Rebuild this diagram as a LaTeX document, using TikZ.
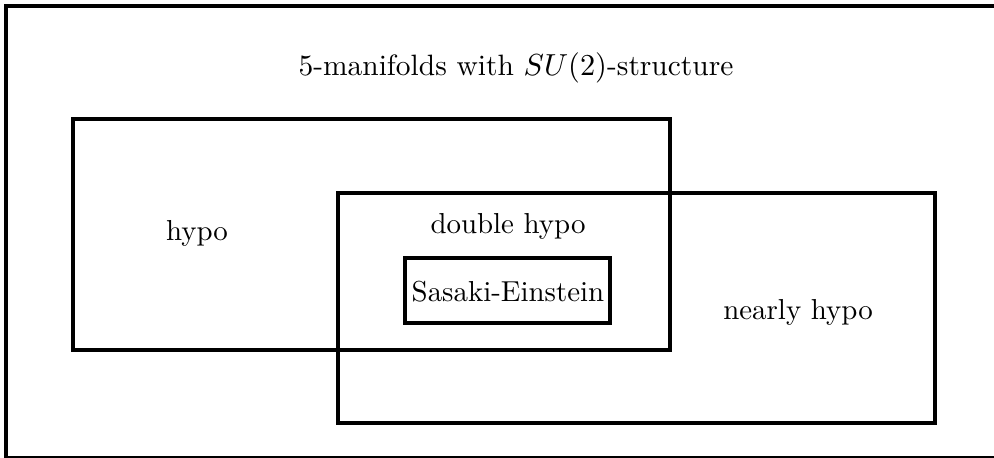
\documentclass[tikz,border=0pt]{standalone}
\begin{document}
\begin{tikzpicture}[x=0.36pt,y=-0.36pt,
  setbox/.style={draw=black,line width=1.45pt},
  lbl/.style={inner sep=0pt,font=\fontsize{10.4}{12}\selectfont}]
\useasboundingbox (0,0) rectangle (994,458);
\clip (0,0) rectangle (994,458);
\fill[white] (0,0) rectangle (994,458);
\draw[setbox] (6,6) rectangle (1010,458);
\node[lbl,font=\fontsize{10.6}{12}\selectfont] (title) at (516,68) {5-manifolds with $SU(2)$-structure};
\draw[setbox] (73,119) rectangle (670,350);
\draw[setbox] (338,193) rectangle (935,423);
\draw[setbox] (405,258) rectangle (610,323);
\node[lbl] (hypo) at (197,233) {hypo};
\node[lbl] (dh) at (508,226) {double hypo};
\node[lbl] (se) at (508,292) {Sasaki-Einstein};
\node[lbl] (nh) at (798,312) {nearly hypo};
\end{tikzpicture}
\end{document}
